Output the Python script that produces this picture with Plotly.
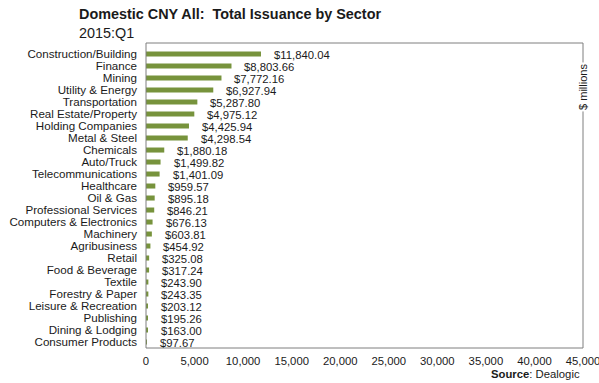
import plotly.graph_objects as go

sectors = ["Construction/Building", "Finance", "Mining", "Utility & Energy", "Transportation",
           "Real Estate/Property", "Holding Companies", "Metal & Steel", "Chemicals", "Auto/Truck",
           "Telecommunications", "Healthcare", "Oil & Gas", "Professional Services",
           "Computers & Electronics", "Machinery", "Agribusiness", "Retail", "Food & Beverage",
           "Textile", "Forestry & Paper", "Leisure & Recreation", "Publishing", "Dining & Lodging",
           "Consumer Products"]
values = [11840.04, 8803.66, 7772.16, 6927.94, 5287.80, 4975.12, 4425.94, 4298.54, 1880.18,
          1499.82, 1401.09, 959.57, 895.18, 846.21, 676.13, 603.81, 454.92, 325.08, 317.24,
          243.90, 243.35, 203.12, 195.26, 163.00, 97.67]
x_ticks = [0, 5000, 10000, 15000, 20000, 25000, 30000, 35000, 40000, 45000]

FONT = "Liberation Sans, Arial, sans-serif"
TXT = "#1a1a1a"

fig = go.Figure()
fig.add_trace(go.Bar(
    y=sectors, x=values, orientation="h", width=0.42,
    marker=dict(color="#77933C", line=dict(width=0)),
    hoverinfo="skip",
))

annotations = []
for s, v in zip(sectors, values):
    annotations.append(dict(
        x=v, y=s, xref="x", yref="y", text=f"${v:,.2f}", showarrow=False,
        xanchor="left", yanchor="middle", xshift=11, yshift=-1,
        font=dict(family=FONT, size=11.3, color=TXT),
    ))

annotations += [
    dict(x=-0.157, y=1.095, xref="paper", yref="paper", xanchor="left", yanchor="middle",
         text="<b>Domestic CNY All:  Total Issuance by Sector</b>", showarrow=False,
         font=dict(family=FONT, size=14.4, color=TXT)),
    dict(x=-0.157, y=1.033, xref="paper", yref="paper", xanchor="left", yanchor="middle",
         text="2015:Q1", showarrow=False, font=dict(family=FONT, size=14.4, color=TXT)),
    dict(x=1.0, y=0.856, xref="paper", yref="paper", xanchor="center", yanchor="middle",
         text="$ millions", textangle=-90, showarrow=False, bgcolor="white",
         font=dict(family=FONT, size=11, color=TXT)),
    dict(x=0.998, y=-0.085, xref="paper", yref="paper", xanchor="right", yanchor="middle",
         text="<b>Source</b>: Dealogic", showarrow=False,
         font=dict(family=FONT, size=11.3, color=TXT)),
]

fig.update_layout(
    width=599, height=383,
    margin=dict(l=146, r=16, t=43, b=35, autoexpand=False),
    paper_bgcolor="white", plot_bgcolor="white",
    showlegend=False,
    font=dict(family=FONT, size=11, color=TXT),
    annotations=annotations,
    shapes=[dict(type="rect", xref="paper", yref="paper", x0=0, x1=1, y0=0, y1=1,
                 line=dict(color="#7f7f7f", width=1), layer="above")],
    xaxis=dict(range=[0, 45000], tickmode="array", tickvals=x_ticks, tickformat=",d",
               showgrid=False, zeroline=False, ticks="", showline=False,
               ticklabeloverflow="allow", automargin=False,
               tickfont=dict(family=FONT, size=11.3, color=TXT), ticklabelstandoff=5),
    yaxis=dict(categoryorder="array", categoryarray=sectors, range=[24.5, -0.92],
               tickmode="array", tickvals=sectors, automargin=False,
               showgrid=False, zeroline=False, ticks="", showline=False,
               tickfont=dict(family=FONT, size=11.6, color=TXT), ticklabelstandoff=8),
)

fig.write_html("out.html", config={"displayModeBar": False},
               post_script="document.body.style.margin='0';")
